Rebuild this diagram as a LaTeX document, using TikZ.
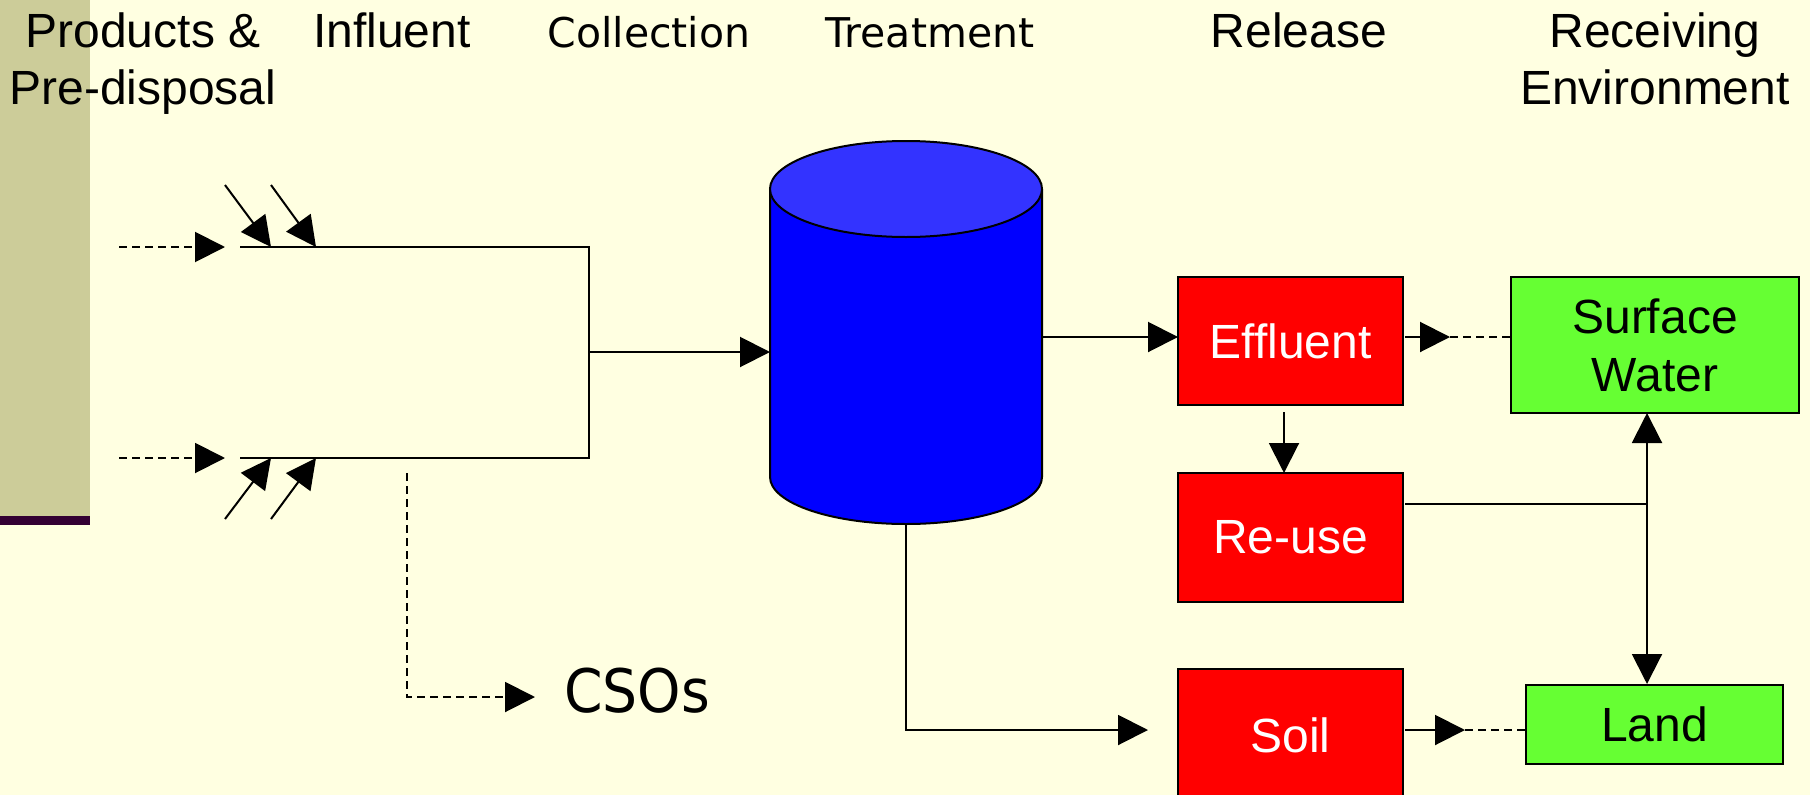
\documentclass[tikz,border=0pt]{standalone}
\usepackage{fontspec}
\setmainfont{Liberation Sans}
\newfontfamily\hdrfont{DejaVu Sans}
\newfontfamily\csofont[FakeStretch=0.92]{DejaVu Sans}
\usetikzlibrary{arrows.meta}
\definecolor{bgyellow}{HTML}{FFFFE1}
\definecolor{stripe}{HTML}{CCCC99}
\definecolor{darkbar}{HTML}{330033}
\definecolor{boxred}{HTML}{FF0000}
\definecolor{boxgreen}{HTML}{66FF33}
\definecolor{tankbody}{HTML}{0000FF}
\definecolor{tanktop}{HTML}{3333FF}
\tikzset{
  hdr/.style={anchor=base, inner sep=0pt, font=\fontsize{48}{56}\selectfont},
  hdrlight/.style={anchor=base, inner sep=0pt, font=\hdrfont\fontsize{41}{50}\selectfont},
  redbox/.style={draw=black, fill=boxred, text=white, minimum width=225pt, inner sep=0pt, font=\fontsize{48}{56}\selectfont},
  greenbox/.style={draw=black, fill=boxgreen, text=black, inner sep=0pt, align=center, font=\fontsize{48}{58}\selectfont},
  arr/.style={-{Triangle[length=30pt,width=30pt]}},
  dsh/.style={dash pattern=on 8pt off 5pt},
}
\begin{document}
\begin{tikzpicture}[x=1pt,y=-1pt,line width=2pt]
\useasboundingbox (0,0) rectangle (1810,795);
\clip (0,0) rectangle (1810,795);
\fill[bgyellow] (0,0) rectangle (1810,795);
\fill[stripe] (0,0) rectangle (90,516);
\fill[darkbar] (0,516) rectangle (90,525);

% headers
\node[hdr] (h1a) at (143,47) {Products \&};
\node[hdr] (h1b) at (143,104) {Pre-disposal};
\node[hdr] (h2) at (392,47) {Influent};
\node[hdrlight] (h3) at (649,47) {Collection};
\node[hdrlight] (h4) at (930,47) {Treatment};
\node[hdr] (h5) at (1299,47) {Release};
\node[hdr] (h6a) at (1655,47) {Receiving};
\node[hdr] (h6b) at (1655,104) {Environment};

% tank (cylinder)
\node[minimum width=272pt, minimum height=383pt, inner sep=0pt] (tank) at (906,332.5) {};
\fill[tankbody] (770,189) -- (770,477) arc[start angle=180, end angle=0, x radius=136, y radius=47] -- (1042,189) -- cycle;
\draw (770,189) -- (770,477) arc[start angle=180, end angle=0, x radius=136, y radius=47] -- (1042,189);
\draw[fill=tanktop] (906,189) ellipse[x radius=136, y radius=48];

% boxes
\node[redbox, minimum height=128pt] (eff) at (1290.5,341) {Effluent};
\node[redbox, minimum height=129pt] (reuse) at (1290.5,537.5) {Re-use};
\node[redbox, minimum height=132pt] (soil) at (1290.5,735) {Soil};
\node[greenbox, minimum width=288pt, minimum height=136pt] (sw) at (1655,345) {Surface\\Water};
\node[greenbox, minimum width=257pt, minimum height=79pt] (land) at (1654.5,724.5) {Land};
\node[anchor=base west, inner sep=0pt, font=\csofont\fontsize{60}{70}\selectfont] (cso) at (563,712) {CSOs};

% coordinates
\coordinate (inTs) at (119,247);
\coordinate (inTe) at (225,247);
\coordinate (inBs) at (119,458);
\coordinate (inBe) at (225,458);
\coordinate (colTL) at (240,247);
\coordinate (colTR) at (589,247);
\coordinate (colBR) at (589,458);
\coordinate (colBL) at (240,458);
\coordinate (colM) at (589,352);
\coordinate (tankIn) at (770,352);
\coordinate (d1s) at (225,185);
\coordinate (d1e) at (271,247);
\coordinate (d2s) at (271,185);
\coordinate (d2e) at (316,247);
\coordinate (d3s) at (225,519);
\coordinate (d3e) at (271,458);
\coordinate (d4s) at (271,519);
\coordinate (d4e) at (316,458);
\coordinate (csoS) at (407,473);
\coordinate (csoC) at (407,697);
\coordinate (csoE) at (535,697);
\coordinate (tankOut) at (1042,337);
\coordinate (effIn) at (1178,337);
\coordinate (effOut) at (1405,337);
\coordinate (effTip) at (1450,337);
\coordinate (swIn) at (1511,337);
\coordinate (effDown) at (1284,412);
\coordinate (reuseIn) at (1284,473);
\coordinate (reuseOut) at (1405,504);
\coordinate (junc) at (1647,504);
\coordinate (swB) at (1647,413);
\coordinate (landT) at (1647,684);
\coordinate (tankBot) at (906,524);
\coordinate (tankCorner) at (906,730);
\coordinate (soilTip) at (1148,730);
\coordinate (soilOut) at (1405,730);
\coordinate (soilArrTip) at (1465,730);
\coordinate (landIn) at (1526,730);

% influent
\draw[arr,dsh] (inTs) -- (inTe);
\draw[arr,dsh] (inBs) -- (inBe);
\draw[arr] (d1s) -- (d1e);
\draw[arr] (d2s) -- (d2e);
\draw[arr] (d3s) -- (d3e);
\draw[arr] (d4s) -- (d4e);
% collection
\draw (colTL) -- (colTR) -- (colBR) -- (colBL);
\draw[arr] (colM) -- (tankIn);
\draw[arr,dsh] (csoS) -- (csoC) -- (csoE);
% release
\draw[arr] (tankOut) -- (effIn);
\draw[arr] (effOut) -- (effTip);
\draw[dsh] (effTip) -- (swIn);
\draw[arr] (effDown) -- (reuseIn);
\draw (reuseOut) -- (junc);
\draw[{Triangle[length=30pt,width=30pt]}-{Triangle[length=30pt,width=30pt]}] (swB) -- (landT);
\draw[arr] (tankBot) -- (tankCorner) -- (soilTip);
\draw[arr] (soilOut) -- (soilArrTip);
\draw[dsh] (soilArrTip) -- (landIn);
\end{tikzpicture}
\end{document}
